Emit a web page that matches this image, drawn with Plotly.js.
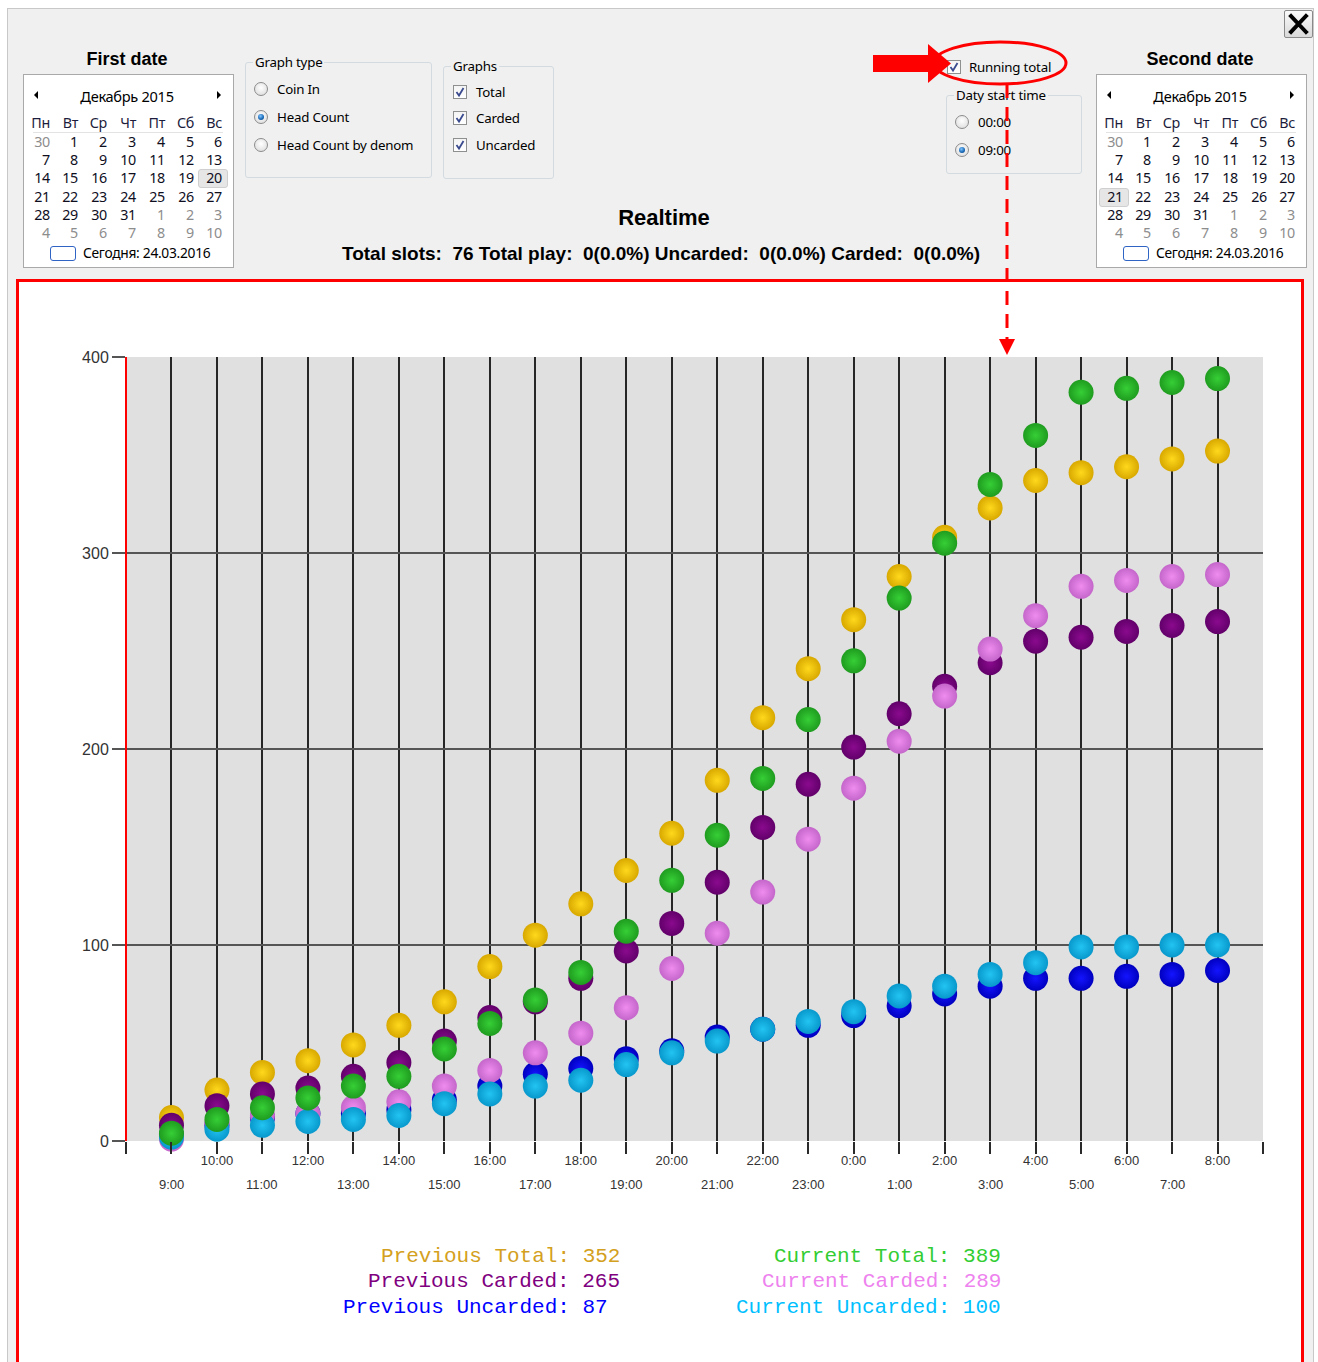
<!DOCTYPE html>
<html>
<head>
<meta charset="utf-8">
<script src="https://cdn.plot.ly/plotly-3.0.1.min.js"></script>
<style>
html,body{margin:0;padding:0;width:1318px;height:1362px;overflow:hidden;background:#fff;font-family:"Noto Sans",sans-serif;color:#000;}
#win{position:absolute;left:7px;top:8px;width:1305px;height:1360px;background:#f0f0f0;border-left:1px solid #c8c8c8;border-top:1px solid #c8c8c8;border-right:1px solid #c8c8c8;}
.t{position:absolute;white-space:pre;height:20px;line-height:20px;}
.cal{position:absolute;width:209px;height:192px;background:#fff;border:1px solid #a9a9a9;}
.grp{position:absolute;border:1px solid #d3dbe0;border-radius:3px;}
.gt{position:absolute;background:#f0f0f0;padding:0 2px;font-size:13.3px;height:18px;line-height:18px;white-space:pre;letter-spacing:-0.2px;}
.lbl{position:absolute;font-size:13.3px;height:18px;line-height:18px;white-space:pre;letter-spacing:-0.2px;}
.radio{position:absolute;width:12px;height:12px;border:1px solid #8c8c8c;border-radius:50%;background:radial-gradient(circle at 50% 40%,#ffffff,#d8d8d8);}
.radio.on::after{content:"";position:absolute;left:3px;top:3px;width:6px;height:6px;border-radius:50%;background:radial-gradient(circle at 40% 35%,#7fc4ff,#1666b3 60%,#0b3d77);}
.chk{position:absolute;width:12px;height:12px;border:1px solid #8e8f8f;background:linear-gradient(#f4f4f4,#ffffff);}
#chart{position:absolute;left:19px;top:282px;width:1282px;height:1080px;background:#fff;}
#ov{position:absolute;left:0;top:0;pointer-events:none;}
#closeb{position:absolute;left:1284px;top:10px;width:27px;height:26px;border:1px solid #8a8a8a;border-radius:2px;background:linear-gradient(#fbfbfb,#d9d9d9);}
</style>
</head>
<body>
<div id="win"></div>
<div id="ui"></div>
<div id="chart"></div>
<svg id="ov" width="1318" height="1362">
  <rect x="17.5" y="280.5" width="1285" height="1090" fill="none" stroke="#ff0000" stroke-width="3"/>
  <rect x="873" y="55" width="57" height="17" fill="#ff0000"/>
  <polygon points="928,44 951,63.5 928,83" fill="#ff0000"/>
  <ellipse cx="1000" cy="63" rx="66" ry="21" fill="none" stroke="#ff0000" stroke-width="3"/>
  <line x1="1007" y1="84" x2="1007" y2="341" stroke="#ff0000" stroke-width="3" stroke-dasharray="14,9"/>
  <polygon points="999,339 1015,339 1007,355" fill="#ff0000"/>
</svg>
<div id="closeb"><svg width="27" height="26"><path d="M6 5 L21 21 M21 5 L6 21" stroke="#000" stroke-width="4" stroke-linecap="square"/></svg></div>

<script>
// ---------------- chart data ----------------
const hours = ['9:00','10:00','11:00','12:00','13:00','14:00','15:00','16:00','17:00','18:00','19:00','20:00',
               '21:00','22:00','23:00','0:00','1:00','2:00','3:00','4:00','5:00','6:00','7:00','8:00'];
const prevTotal    = [12,26,35,41,49,59,71,89,105,121,138,157,184,216,241,266,288,308,323,337,341,344,348,352];
const prevCarded   = [8,18,24,27,33,40,51,63,71,83,97,111,132,160,182,201,218,232,244,255,257,260,263,265];
const prevUncarded = [3,8,12,14,14,16,21,28,34,37,42,46,53,57,59,64,69,75,79,83,83,84,85,87];
const curTotal     = [4,11,17,22,28,33,47,60,72,86,107,133,156,185,215,245,277,305,335,360,382,384,387,389];
const curCarded    = [1,9,13,14,17,20,28,36,45,55,68,88,106,127,154,180,204,227,251,268,283,286,288,289];
const curUncarded  = [2,6,8,10,11,13,19,24,28,31,39,45,51,57,61,66,74,79,85,91,99,99,100,100];
const yTicks = [0,100,200,300,400];

// ---------------- UI (window controls) ----------------
const ui = document.getElementById('ui');
function el(cls, txt, css){
  const d = document.createElement('div');
  d.className = cls;
  if (txt !== null && txt !== undefined) d.textContent = txt;
  Object.assign(d.style, css || {});
  ui.appendChild(d);
  return d;
}
function T(txt, x, cy, css, align){
  const d = el('t', txt, Object.assign({top:(cy-10)+'px'}, css||{}));
  if (align === 'center'){ d.style.left=(x-400)+'px'; d.style.width='800px'; d.style.textAlign='center'; }
  else if (align === 'right'){ d.style.left=(x-200)+'px'; d.style.width='200px'; d.style.textAlign='right'; }
  else d.style.left = x+'px';
  return d;
}
const dayNames = ['Пн','Вт','Ср','Чт','Пт','Сб','Вс'];
const weeks = [[30,1,2,3,4,5,6],[7,8,9,10,11,12,13],[14,15,16,17,18,19,20],[21,22,23,24,25,26,27],[28,29,30,31,1,2,3],[4,5,6,7,8,9,10]];
function isOther(r,c){ return (r===0 && c===0) || (r===4 && c>=4) || r===5; }
function calendar(ox, title, selR, selC){
  T(title, ox+104, 59, {fontFamily:'"Liberation Sans",Arial,sans-serif', fontWeight:'bold', fontSize:'18px'}, 'center');
  el('cal', null, {left:ox+'px', top:'74px'});
  el('t', '', {left:(ox+11)+'px', top:'91px', width:'0', height:'0', borderTop:'4px solid transparent', borderBottom:'4px solid transparent', borderRight:'4px solid #000'});
  el('t', '', {left:(ox+194)+'px', top:'91px', width:'0', height:'0', borderTop:'4px solid transparent', borderBottom:'4px solid transparent', borderLeft:'4px solid #000'});
  T('Декабрь 2015', ox+104, 96, {fontSize:'14.6px', letterSpacing:'-0.3px'}, 'center');
  const colR = [27,55,84,113,142,171,199];
  dayNames.forEach((n,c)=>T(n, ox+colR[c], 123, {fontSize:'14.3px', color:'#1c1c3c', letterSpacing:'-0.3px'}, 'right'));
  el('t', null, {left:(ox+10)+'px', top:'132px', width:'190px', height:'1px', background:'#e3e3e3'});
  const rowY = [142,160,178,197,215,233];
  if (selR !== null){
    el('t', null, {left:(ox+colR[selC]-24)+'px', top:(rowY[selR]-9)+'px', width:'28px', height:'17px', background:'#e6e6e6', border:'1px solid #cfcfcf', borderRadius:'3px'});
  }
  weeks.forEach((w,r)=>w.forEach((d,c)=>{
    T(String(d), ox+colR[c], rowY[r], {fontSize:'14.3px', letterSpacing:'-0.3px', color: isOther(r,c)?'#8d8d8d':'#0e0e1e'}, 'right');
  }));
  el('t', null, {left:(ox+27)+'px', top:'246px', width:'24px', height:'13px', border:'1px solid #2f63c4', borderRadius:'3px'});
  T('Сегодня: 24.03.2016', ox+60, 253, {fontSize:'13.8px', letterSpacing:'-0.3px'});
}
calendar(23, 'First date', 2, 6);
calendar(1096, 'Second date', 3, 0);

function groupBox(x, y, w, h, title){
  el('grp', null, {left:x+'px', top:y+'px', width:w+'px', height:h+'px'});
  el('gt', title, {left:(x+8)+'px', top:(y-9)+'px'});
}
function radio(cx, cy, on, label, lx){
  el('radio'+(on?' on':''), null, {left:(cx-7)+'px', top:(cy-7)+'px'});
  el('lbl', label, {left:lx+'px', top:(cy-9)+'px'});
}
function check(cx, cy, label, lx){
  const c = el('chk', null, {left:(cx-7)+'px', top:(cy-7)+'px'});
  c.innerHTML = '<svg width="12" height="12" style="position:absolute;left:0;top:0"><path d="M2.5 6 L5 9.5 L9.5 2" stroke="#3a4a8e" stroke-width="1.8" fill="none"/></svg>';
  el('lbl', label, {left:lx+'px', top:(cy-9)+'px'});
}
groupBox(245, 62, 185, 114, 'Graph type');
radio(261, 89, false, 'Coin In', 277);
radio(261, 117, true, 'Head Count', 277);
radio(261, 145, false, 'Head Count by denom', 277);

groupBox(443, 66, 109, 111, 'Graphs');
check(460, 92, 'Total', 476);
check(460, 118, 'Carded', 476);
check(460, 145, 'Uncarded', 476);

check(954, 67, 'Running total', 969);
groupBox(946, 95, 134, 77, 'Daty start time');
radio(962, 122, false, '00:00', 978);
radio(962, 150, true, '09:00', 978);

T('Realtime', 664, 218, {fontFamily:'"Liberation Sans",Arial,sans-serif', fontWeight:'bold', fontSize:'22px'}, 'center');
T('Total slots:  76 Total play:  0(0.0%) Uncarded:  0(0.0%) Carded:  0(0.0%)', 661, 254,
  {fontFamily:'"Liberation Sans",Arial,sans-serif', fontWeight:'bold', fontSize:'19px'}, 'center');

// ---------------- Plotly chart ----------------
const axisFont = {family:'"Liberation Sans", Arial, sans-serif', size:13, color:'#333'};
function series(name, y, edge, center){
  return {type:'scatter', mode:'markers', name:name, x:hours, y:y, cliponaxis:false, hoverinfo:'x+y+name',
          marker:{size:25, color:edge, line:{width:0}, gradient:{type:'radial', color:center}}};
}
const traces = [
  series('Previous Total', prevTotal, '#d8a800', '#ffd91c'),
  series('Previous Carded', prevCarded, '#62006a', '#8a0a8e'),
  series('Previous Uncarded', prevUncarded, '#0000c0', '#1414ff'),
  series('Current Carded', curCarded, '#c466ca', '#f08cf0'),
  series('Current Uncarded', curUncarded, '#0898cc', '#22c4f2'),
  series('Current Total', curTotal, '#1f9c1f', '#36cf36')
];

const upperTickText = hours.map((h,i)=> i%2===1 ? h : '');
const tickvals = [-1].concat(hours).concat([24]);
const ticktext = [''].concat(upperTickText).concat(['']);

const annotations = [];
hours.forEach((h,i)=>{
  if (i%2===0) annotations.push({x:h, xref:'x', y:0, yref:'paper', yshift:-43, yanchor:'middle', text:h, showarrow:false, font:axisFont});
});

const monoFont = '"Liberation Mono", "Courier New", monospace';
const legendRows = [
  {label:'Previous Total', values:prevTotal, color:'#d4a020', x:0.4363, row:0},
  {label:'Previous Carded', values:prevCarded, color:'#800080', x:0.4363, row:1},
  {label:'Previous Uncarded', values:prevUncarded, color:'#0000ff', x:0.4257, row:2},
  {label:'Current Total', values:curTotal, color:'#32cd32', x:0.7713, row:0},
  {label:'Current Carded', values:curCarded, color:'#ee82ee', x:0.7713, row:1},
  {label:'Current Uncarded', values:curUncarded, color:'#00bfff', x:0.7713, row:2}
];
const rowShift = [-115, -140, -166];
legendRows.forEach(r=>{
  annotations.push({x:r.x, xref:'paper', xanchor:'right', y:0, yref:'paper', yshift:rowShift[r.row], yanchor:'middle',
    text: r.label + ': ' + r.values[r.values.length-1], showarrow:false,
    font:{family:monoFont, size:21, color:r.color}});
});

const layout = {
  width:1282, height:1080,
  margin:{l:107, r:38, t:75, b:221, pad:0},
  paper_bgcolor:'#ffffff', plot_bgcolor:'#e0e0e0',
  showlegend:false,
  xaxis:{type:'category', categoryorder:'array', categoryarray:hours, range:[-1,24],
         tickmode:'array', tickvals:tickvals, ticktext:ticktext,
         ticks:'outside', ticklen:12, tickwidth:2, tickcolor:'#2a2a2a', ticklabelstandoff:-5,
         showgrid:true, gridcolor:'#262626', gridwidth:2, showline:false, zeroline:false,
         tickfont:axisFont, fixedrange:true},
  yaxis:{range:[0,400], tickmode:'array', tickvals:yTicks, ticktext:yTicks.map(String),
         ticks:'outside', ticklen:13, tickwidth:2, tickcolor:'#555',
         showgrid:true, gridcolor:'#555555', gridwidth:2,
         showline:false, zeroline:false,
         tickfont:{family:'"Liberation Sans", Arial, sans-serif', size:16, color:'#333'}, fixedrange:true},
  shapes:[{type:'line', layer:'above', xref:'paper', yref:'paper', x0:0, x1:0, y0:0, y1:1, line:{color:'#ff0000', width:2}}],
  annotations:annotations
};
Plotly.newPlot('chart', traces, layout, {displayModeBar:false, staticPlot:true});
</script>
</body>
</html>
